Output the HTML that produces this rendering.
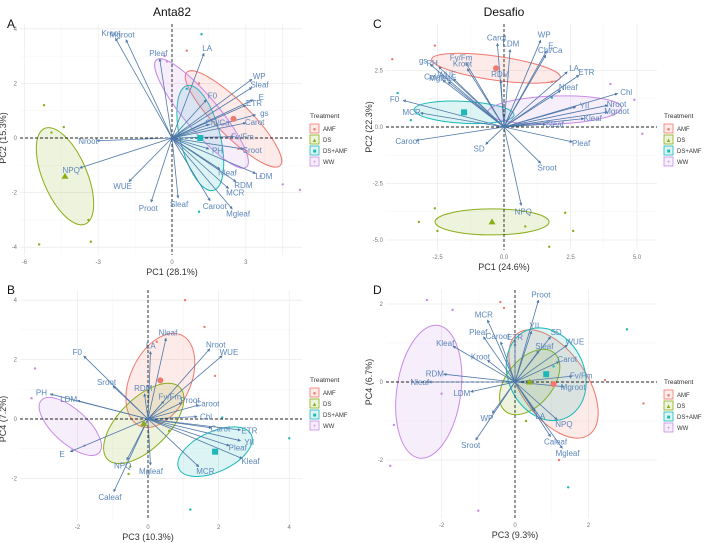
<!DOCTYPE html>
<html><head><meta charset="utf-8"><style>
body{margin:0;background:#fff;}
svg{display:block;font-family:"Liberation Sans",sans-serif;}
</style></head><body>
<svg id="fig" width="709" height="543" viewBox="0 0 709 543"></svg>
<script>
// ---------- DATA ----------
const groups = ["AMF","DS","DS+AMF","WW"];
const groupColors = ["#f0786e","#8aae1a","#1ab8b8","#c88ae8"];

// Panel A (PC1 vs PC2, Anta82)
const aVars = ["Kroot","Mgroot","Pleaf","LA","WP","Sleaf","E","ETR","gs","Carot","F0","Chl/Ca","Fv/Fm","Sroot","LDM","RDM","MCR","Mgleaf","Caroot","Sleaf","Proot","WUE","NPQ","Nroot","Nleaf","PH"];
const aX = [-2.3,-1.87,-0.5,1.3,3.25,3.25,3.3,3.0,3.4,3.0,1.4,1.5,2.5,2.9,3.4,2.6,2.3,2.45,1.55,0.25,-0.85,-1.75,-3.75,-3.05,1.95,1.5];
const aY = [3.65,3.6,2.9,3.1,2.15,1.85,1.4,1.2,0.85,0.55,1.4,0.5,0.05,-0.4,-1.3,-1.6,-1.85,-2.6,-2.3,-2.2,-2.35,-1.6,-1.1,-0.1,-1.15,-0.4];
const aEllX = [2.5,-4.35,1.15,1.2];
const aEllY = [0.7,-1.4,0.0,0.9];
const aPtX = [0.6,1.1,-5.2,-5.4,-4.4,-3.4,-3.3,-4.9,1.2,0.6,1.1,4.5,5.2,3.6,-0.2,2.7,-0.3];
const aPtY = [3.2,2.0,1.2,-3.9,0.4,-3.0,-3.8,0.2,3.8,1.8,-2.7,-1.7,-1.9,-1.4,2.8,-0.4,3.0];
const aPtG = [0,0,1,1,1,1,1,1,2,2,2,3,3,3,3,0,3];

// Panel C (PC1 vs PC2, Desafio)
const cVars = ["Carot","LDM","WP","E","Chl/Ca","LA","ETR","Nleaf","Chl","Nroot","YII","Mgroot","Kleaf","Sleaf","Pleaf","Sroot","NPQ","SD","Caroot","F0","MCR","Mgleaf","Caleaf","WUE","PH","gs","Fv/Fm","Kroot","RDM"];
const cX = [-0.25,0.23,1.38,1.6,1.57,2.38,2.82,2.13,4.27,3.9,2.7,3.9,3.0,1.57,2.57,1.38,0.65,-0.69,-3.3,-3.79,-3.14,-2.1,-2.3,-1.9,-2.45,-2.78,-1.44,-1.38,-0.12];
const cY = [3.7,3.43,3.84,3.37,3.18,2.44,2.29,1.62,1.48,0.96,0.89,0.66,0.37,0.12,-0.66,-1.6,-3.47,-0.77,-0.59,1.18,0.62,2.0,2.07,2.14,2.66,2.78,2.85,2.58,2.07];
const cEllX = [-0.3,-0.45,-1.5,1.9];
const cEllY = [2.6,-4.2,0.65,0.75];
const cPtX = [-2.6,-4.2,1.8,-2.6,-3.2,-2.5,2.3,0.8,2.6,1.7,-4.0,-3.5,1.8,4.9,5.2,4.0];
const cPtY = [3.6,3.0,2.0,-3.6,-4.2,-4.6,-3.8,-4.4,-4.6,-5.3,1.5,0.3,1.3,1.2,-0.3,1.9];
const cPtG = [0,0,0,1,1,1,1,1,1,1,2,2,2,3,3,3];

// Panel B (PC3 vs PC4, Anta82)
const bVars = ["Nleaf","LA","Nroot","WUE","F0","PH","LDM","Sroot","RDM","Fv/Fm","Proot","Caroot","Chl","ETR","YII","Kleaf","MCR","Mgleaf","NPQ","Caleaf","E","Carot","Pleaf"];
const bX = [0.51,0.07,1.75,2.1,-1.82,-2.77,-2.0,-0.99,-0.1,0.45,0.96,1.44,1.39,2.62,2.62,2.67,1.44,0.07,-0.6,-0.97,-2.2,1.8,2.3];
const bY = [2.72,2.27,2.36,2.13,2.12,0.84,0.62,1.11,0.85,0.6,0.55,0.47,0.08,-0.37,-0.73,-1.33,-1.61,-1.55,-1.38,-2.45,-1.1,-0.3,-0.9];
const bEllX = [0.35,-0.12,1.9,-2.2];
const bEllY = [1.3,-0.15,-1.1,-0.25];
const bPtX = [1.05,1.6,0.25,1.9,-0.5,-0.55,0.6,2.1,4.0,1.2,-3.2,-3.3,-1.8];
const bPtY = [4.0,3.1,2.6,1.45,-1.6,-1.85,-0.4,0.05,-0.65,-3.05,1.7,0.7,-0.9];
const bPtG = [0,0,0,0,1,1,1,2,2,2,3,3,3];

// Panel D (PC3 vs PC4, Desafio)
const dVars = ["Proot","MCR","Pleaf","Caroot","ETR","YII","SD","WUE","Kleaf","Sleaf","Kroot","RDM","Carot","Fv/Fm","Nleaf","Mgroot","LDM","LA","NPQ","Caleaf","Mgleaf","WP","Sroot"];
const dX = [0.64,-0.75,-0.86,-0.39,0.0,0.45,0.97,1.43,-1.69,0.65,-0.75,-1.94,1.2,1.56,-2.35,1.34,-1.21,0.55,1.15,0.97,1.29,-0.62,-1.07];
const dY = [2.1,1.59,1.16,1.03,1.0,1.3,1.16,0.95,0.92,0.8,0.56,0.2,0.52,0.15,0.0,-0.12,-0.25,-0.75,-0.97,-1.4,-1.7,-0.8,-1.49];
const dEllX = [1.05,0.4,0.85,-2.35];
const dEllY = [-0.05,0.0,0.2,-0.25];
const dPtX = [-0.4,-0.3,1.2,2.45,3.5,0.3,1.05,3.05,1.45,-2.0,-1.7,-3.3,-3.4,-1.0,-2.4];
const dPtY = [2.05,1.9,-2.0,0.05,-0.55,-1.0,0.4,1.35,-2.7,-0.3,1.85,-1.1,-2.15,-3.3,2.1];
const dPtG = [0,0,0,0,0,1,2,2,2,3,3,3,3,3,3];

// ---------- RENDER ----------
const NS="http://www.w3.org/2000/svg";
const fig=document.getElementById('fig');
function mk(tag,attrs,parent){const e=document.createElementNS(NS,tag);for(const k in attrs)e.setAttribute(k,attrs[k]);(parent||fig).appendChild(e);return e;}

function panel(p){
  const g=mk('g',{});
  
  
  const sx=v=>p.x0+v*p.kx, sy=v=>p.y0-v*p.ky;
  for(let i=0;i<p.xt.length;i++){
    const t=p.xt[i];
    mk('line',{x1:sx(t),x2:sx(t),y1:p.top,y2:p.bot,stroke:'#ececec','stroke-width':0.8},g);
    if(i<p.xt.length-1){const m=(t+p.xt[i+1])/2;mk('line',{x1:sx(m),x2:sx(m),y1:p.top,y2:p.bot,stroke:'#f4f4f4','stroke-width':0.5},g);}
    const tl=mk('text',{x:sx(t),y:p.bot+9,'font-size':6,fill:'#777','text-anchor':'middle'},g);tl.textContent=p.xl[i];
    
    
  }
  for(let i=0;i<p.yt.length;i++){
    const t=p.yt[i];
    mk('line',{x1:p.left,x2:p.right,y1:sy(t),y2:sy(t),stroke:'#ececec','stroke-width':0.8},g);
    if(i<p.yt.length-1){const m=(t+p.yt[i+1])/2;mk('line',{x1:p.left,x2:p.right,y1:sy(m),y2:sy(m),stroke:'#f4f4f4','stroke-width':0.5},g);}
    const tl=mk('text',{x:p.left-3,y:sy(t)+2,'font-size':6,fill:'#777','text-anchor':'end'},g);tl.textContent=p.yl[i];
    
    
  }
  for(let k=0;k<4;k++){
    const e=mk('ellipse',{cx:sx(p.ex[k]),cy:sy(p.ey[k]),rx:p.er[k][0],ry:p.er[k][1],
      transform:`rotate(${p.er[k][2]} ${sx(p.ex[k])} ${sy(p.ey[k])})`,
      fill:groupColors[k],'fill-opacity':0.15,stroke:groupColors[k],'stroke-width':1},g);
    
    
  }
  for(let i=0;i<p.px.length;i++){
    const c=mk('circle',{cx:sx(p.px[i]),cy:sy(p.py[i]),r:1.2,fill:groupColors[p.pg[i]]},g);
    
    
  }
  mk('line',{x1:p.left,x2:p.right,y1:sy(0),y2:sy(0),stroke:'#222','stroke-width':0.9,'stroke-dasharray':'3,2'},g);
  mk('line',{x1:sx(0),x2:sx(0),y1:p.top,y2:p.bot,stroke:'#222','stroke-width':0.9,'stroke-dasharray':'3,2'},g);
  for(let i=0;i<p.vars.length;i++){
    const X=sx(p.vx[i]),Y=sy(p.vy[i]),X0=sx(0),Y0=sy(0);
    const a=mk('line',{x1:X0,y1:Y0,x2:X,y2:Y,stroke:'#4f78a8','stroke-width':0.8,'marker-end':'url(#ah)'},g);
    
    
    const dx=X-X0,dy=Y-Y0,L=Math.hypot(dx,dy)||1;
    const t=mk('text',{x:X+dx/L*9,y:Y+dy/L*6+3,'font-size':8,fill:'#5b86bb','text-anchor':'middle'},g);
    t.textContent=p.vars[i];
    
    
  }
  const mx=p.ex,my=p.ey;
  const m0=mk('circle',{cx:sx(mx[0]),cy:sy(my[0]),r:3,fill:groupColors[0]},g);
  
  const m1=mk('path',{d:`M${sx(mx[1])},${sy(my[1])-3.5}l3.5,6h-7z`,fill:groupColors[1]},g);
  
  const m2=mk('rect',{x:sx(mx[2])-3,y:sy(my[2])-3,width:6,height:6,fill:groupColors[2]},g);
  
  const xt=mk('text',{x:sx(0),y:p.bot+20,'font-size':9,fill:'#333','text-anchor':'middle'},g);xt.textContent=p.xtitle;
  
  const yx=p.left-14,yy=sy(0);
  const yt=mk('text',{x:yx,y:yy,'font-size':9,fill:'#333','text-anchor':'middle',transform:`rotate(-90 ${yx} ${yy})`},g);yt.textContent=p.ytitle;
  
  const lt=mk('text',{x:p.left-13,y:p.top+4,'font-size':12,fill:'#111'},g);lt.textContent=p.letter;
  
  if(p.title){const tt=mk('text',{x:sx(0),y:16,'font-size':12,fill:'#111','text-anchor':'middle'},g);tt.textContent=p.title;
    }
  const lg=mk('g',{},g);
  
  const lh=mk('text',{x:p.lx,y:p.ly,'font-size':6.5,fill:'#333'},lg);lh.textContent='Treatment';
  const sym=['●','▲','■','+'];
  for(let k=0;k<4;k++){
    const yy2=p.ly+6+k*11;
    const r=mk('rect',{x:p.lx,y:yy2,width:9,height:9,fill:groupColors[k],'fill-opacity':0.15,stroke:groupColors[k],'stroke-width':0.8},lg);
    
    const s=mk('text',{x:p.lx+4.5,y:yy2+7,'font-size':6,fill:groupColors[k],'text-anchor':'middle'},lg);s.textContent=sym[k];
    const tx=mk('text',{x:p.lx+13,y:yy2+7,'font-size':6,fill:'#333'},lg);tx.textContent=groups[k];
  }
}
const defs=mk('defs',{});
const mkr=mk('marker',{id:'ah',viewBox:'0 0 6 6',refX:5,refY:3,markerWidth:4,markerHeight:4,orient:'auto'},defs);
mk('path',{d:'M0,0L6,3L0,6z',fill:'#4f78a8'},mkr);

panel({id:'a',letter:'A',title:'Anta82',x0:172,kx:24.6,y0:138,ky:27.3,left:20,right:302,top:24,bot:255,
  xt:[-6,-3,0,3,4.5],xl:['-6','-3','0','3',''],yt:[-4,-2,0,2,4],yl:['-4','-2','0','2','4'],
  vars:aVars,vx:aX,vy:aY,ex:aEllX,ey:aEllY,er:[[66,17,45],[52,22,67],[54,20,76],[70,17,50]],
  px:aPtX,py:aPtY,pg:aPtG,xtitle:'PC1 (28.1%)',ytitle:'PC2 (15.3%)',lx:310,ly:118});
panel({id:'c',letter:'C',title:'Desafio',x0:504,kx:26.6,y0:127,ky:22.6,left:386,right:657,top:24,bot:250,
  xt:[-2.5,0,2.5,5],xl:['-2.5','0.0','2.5','5.0'],yt:[-5,-2.5,0,2.5],yl:['-5.0','-2.5','0.0','2.5'],
  vars:cVars,vx:cX,vy:cY,ex:cEllX,ey:cEllY,er:[[65,12,8],[57,13,0],[50,11,3],[67,14,-2]],
  px:cPtX,py:cPtY,pg:cPtG,xtitle:'PC1 (24.6%)',ytitle:'PC2 (22.3%)',lx:664,ly:118});
panel({id:'b',letter:'B',title:'',x0:148,kx:35.3,y0:419,ky:29.7,left:20,right:302,top:290,bot:520,
  xt:[-2,0,2,4],xl:['-2','0','2','4'],yt:[-2,0,2,4],yl:['-2','0','2','4'],
  vars:bVars,vx:bX,vy:bY,ex:bEllX,ey:bEllY,er:[[50,30,-65],[51,25,-45],[40,20,-25],[39,17,42]],
  px:bPtX,py:bPtY,pg:bPtG,xtitle:'PC3 (10.3%)',ytitle:'PC4 (7.2%)',lx:310,ly:382});
panel({id:'d',letter:'D',title:'',x0:515,kx:36.7,y0:382,ky:39,left:386,right:657,top:290,bot:518,
  xt:[-2,0,2],xl:['-2','0','2'],yt:[-2,0,2],yl:['-2','0','2'],
  vars:dVars,vx:dX,vy:dY,ex:dEllX,ey:dEllY,er:[[62,33,55],[38,23,-50],[48,38,65],[67,32,-82]],
  px:dPtX,py:dPtY,pg:dPtG,xtitle:'PC3 (9.3%)',ytitle:'PC4 (6.7%)',lx:664,ly:384});
</script>
</body></html>
